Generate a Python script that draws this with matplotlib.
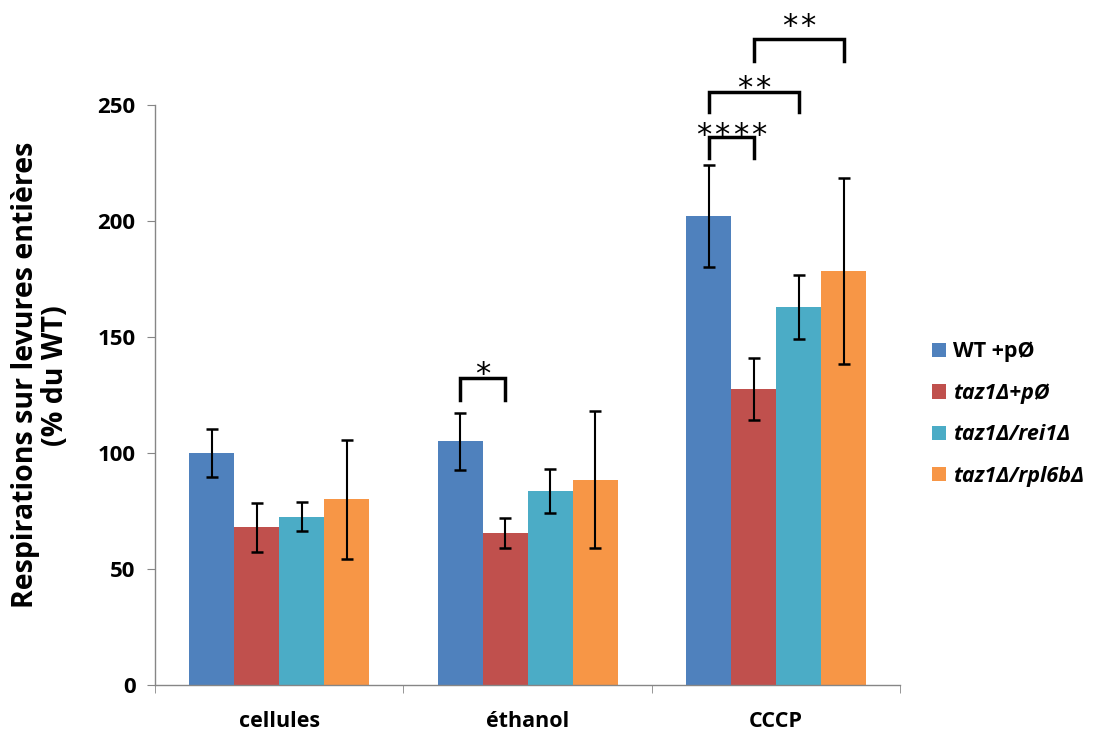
import matplotlib.pyplot as plt
import numpy as np

plt.rcParams['font.family'] = ['Open Sans', 'DejaVu Sans']

# data
conditions = ["cellules", "éthanol", "CCCP"]
strains = ["WT +pØ", "taz1Δ+pØ", "taz1Δ/rei1Δ", "taz1Δ/rpl6bΔ"]
wt = [100, 105, 202]
taz1 = [68, 65.5, 127.5]
rei1 = [72.5, 83.5, 163]
rpl6b = [80, 88.5, 178.5]
wt_err = [10.2, 12.3, 22]
taz1_err = [10.5, 6.5, 13.3]
rei1_err = [6.3, 9.5, 13.7]
rpl6b_err = [25.5, 29.5, 40]

# significance brackets: (condition, strain a, strain b, bracket bottom, bracket top, n stars, star centre)
brackets = [
    (1, 0, 1, 123, 132.5, 1, 138),
    (2, 0, 1, 227, 236, 4, 241),
    (2, 0, 2, 247, 255.5, 2, 261),
    (2, 1, 3, 269, 278.5, 2, 288),
]

colors = ['#4F81BD', '#C0504D', '#4BACC6', '#F79646']
series = [wt, taz1, rei1, rpl6b]
errs = [wt_err, taz1_err, rei1_err, rpl6b_err]

fig = plt.figure(figsize=(11.06, 7.33), dpi=100)
ax = fig.add_axes([0.140, 0.0655, 0.674, 0.7913])

x = np.arange(len(conditions))
bar_width = 0.181
offsets = (np.arange(4) - 1.5) * bar_width

for i in range(4):
    ax.bar(x + offsets[i], series[i], bar_width, color=colors[i], label=strains[i],
           yerr=errs[i], error_kw=dict(ecolor='black', elinewidth=1.5, capsize=4, capthick=1.8))

star_fs = 22
pitch = 13.3  # points between stars
for cond, a, b, y0, y1, n, yc in brackets:
    xa = cond + offsets[a]
    xb = cond + offsets[b]
    ax.plot([xa, xa, xb, xb], [y0, y1, y1, y0], color='black', lw=2.5, clip_on=False,
            solid_joinstyle='miter')
    for k in range(n):
        dx = (k - (n - 1) / 2) * pitch
        ax.annotate("*", xy=((xa + xb) / 2, yc), xytext=(dx, -0.59 * star_fs),
                    textcoords='offset points', ha='center', va='baseline',
                    fontsize=star_fs, family='DejaVu Sans', annotation_clip=False)

ax.set_xlim(-0.5, 2.5)
ax.set_ylim(0, 250)
ax.set_yticks([0, 50, 100, 150, 200, 250])
ax.set_xticks(x)
ax.set_xticklabels(conditions, fontsize=15.5, weight='bold')
ax.set_xticks([-0.5, 0.5, 1.5, 2.5], minor=True)
ax.tick_params(axis='x', which='major', length=0, pad=19)
ax.tick_params(axis='x', which='minor', length=6, color='#868686')
ax.tick_params(axis='y', length=6, color='#868686', pad=8, labelsize=16)
for t in ax.get_yticklabels():
    t.set_fontweight('bold')

for s in ['top', 'right']:
    ax.spines[s].set_visible(False)
for s in ['left', 'bottom']:
    ax.spines[s].set_color('#868686')
    ax.spines[s].set_linewidth(1)

ax.set_ylabel("Respirations sur levures entières\n(% du WT)", fontsize=20.5,
              weight='bold', linespacing=1.05)
ax.yaxis.set_label_coords(-0.114, 0.534)

leg = ax.legend(loc='center left', bbox_to_anchor=(1.017, 0.467), frameon=False,
                fontsize=15.5, handlelength=0.65, handleheight=0.65, handletextpad=0.3,
                labelspacing=0.95)
for i, t in enumerate(leg.get_texts()):
    t.set_fontweight('bold')
    if i > 0:
        t.set_fontstyle('italic')

fig.savefig('out.png', dpi=100)
